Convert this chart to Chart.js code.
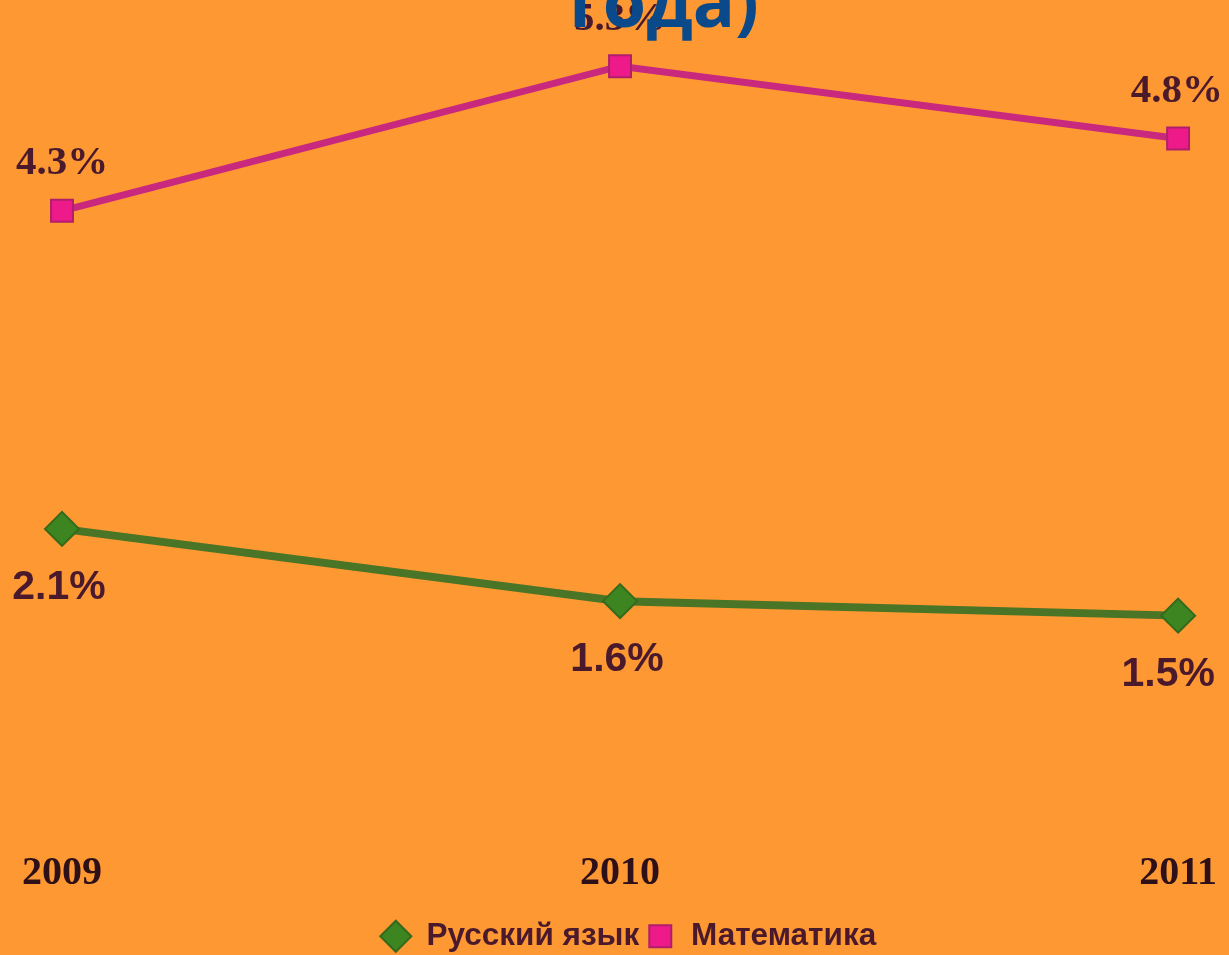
<!DOCTYPE html>
<html>
<head>
<meta charset="utf-8">
<script src="https://cdn.jsdelivr.net/npm/chart.js@4"></script>
<style>
  html, body { margin: 0; padding: 0; background: #fe9833; overflow: hidden; }
  #wrap { position: absolute; left: 0; top: -54px; width: 1234px; height: 1016px; }
</style>
</head>
<body>
<div id="wrap"><canvas id="chart"></canvas></div>
<script>
const years = ['2009', '2010', '2011'];
const russian = [2.1, 1.6, 1.5];
const maths = [4.3, 5.3, 4.8];
const seriesNames = ['Русский язык', 'Математика'];

const textColor = '#4a1a2c';
const pageWidth = 1229;

// value labels next to each point
const valueLabels = {
  id: 'valueLabels',
  afterDatasetsDraw(chart) {
    const { ctx } = chart;
    ctx.save();
    ctx.fillStyle = textColor;
    ctx.textAlign = 'center';
    ctx.textBaseline = 'middle';
    chart.data.datasets.forEach((ds, i) => {
      const meta = chart.getDatasetMeta(i);
      meta.data.forEach((pt, j) => {
        const txt = ds.data[j].toFixed(1) + '%';
        if (i === 1) {
          ctx.font = 'bold 41px "Liberation Serif"';
          const half = ctx.measureText(txt).width / 2;
          const x = Math.min(pt.x, pageWidth - 6 - half);
          ctx.fillText(txt, x, pt.y - 47);
        } else {
          ctx.font = 'bold 41px "Liberation Sans"';
          const half = ctx.measureText(txt).width / 2;
          const x = Math.min(pt.x - 3, pageWidth - 14 - half);
          ctx.fillText(txt, x, pt.y + 59);
        }
      });
    });
    ctx.restore();
  },
};

// leftover bottom of the slide title
const cutTitle = {
  id: 'cutTitle',
  afterDraw(chart) {
    const { ctx } = chart;
    ctx.save();
    ctx.font = 'bold 70px "Open Sans"';
    ctx.fillStyle = '#0b4a8a';
    ctx.textAlign = 'center';
    ctx.textBaseline = 'alphabetic';
    ctx.fillText('года)', 664, 54 + 27);
    ctx.restore();
  },
};

new Chart(document.getElementById('chart'), {
  type: 'line',
  data: {
    labels: years,
    datasets: [
      {
        label: seriesNames[0],
        data: russian,
        borderColor: '#4a7426',
        borderWidth: 8,
        backgroundColor: '#3c8520',
        pointStyle: 'rectRot',
        pointRadius: 17,
        pointBorderColor: '#35691c',
        pointBorderWidth: 2,
        tension: 0,
      },
      {
        label: seriesNames[1],
        data: maths,
        borderColor: '#c8287e',
        borderWidth: 7,
        backgroundColor: '#ee1a8a',
        pointStyle: 'rect',
        pointRadius: 15.5,
        pointBorderColor: '#b01e6c',
        pointBorderWidth: 2,
        tension: 0,
      },
    ],
  },
  options: {
    responsive: true,
    maintainAspectRatio: false,
    animation: false,
    layout: { padding: { top: 15, left: 62, right: 39, bottom: 0 } },
    scales: {
      x: {
        offset: false,
        grid: { display: false, drawTicks: false },
        border: { display: false },
        ticks: {
          color: '#2e1018',
          padding: 17,
          font: { family: '"Liberation Serif"', size: 40, weight: 'bold' },
        },
      },
      y: {
        display: false,
        min: 0,
        max: 6,
      },
    },
    plugins: {
      legend: {
        position: 'bottom',
        labels: {
          usePointStyle: true,
          boxWidth: 30,
          boxHeight: 22,
          padding: 6,
          color: textColor,
          font: { family: '"Liberation Sans"', size: 31.5, weight: 'bold' },
        },
      },
      tooltip: { enabled: false },
    },
  },
  plugins: [valueLabels, cutTitle],
});
</script>
</body>
</html>
